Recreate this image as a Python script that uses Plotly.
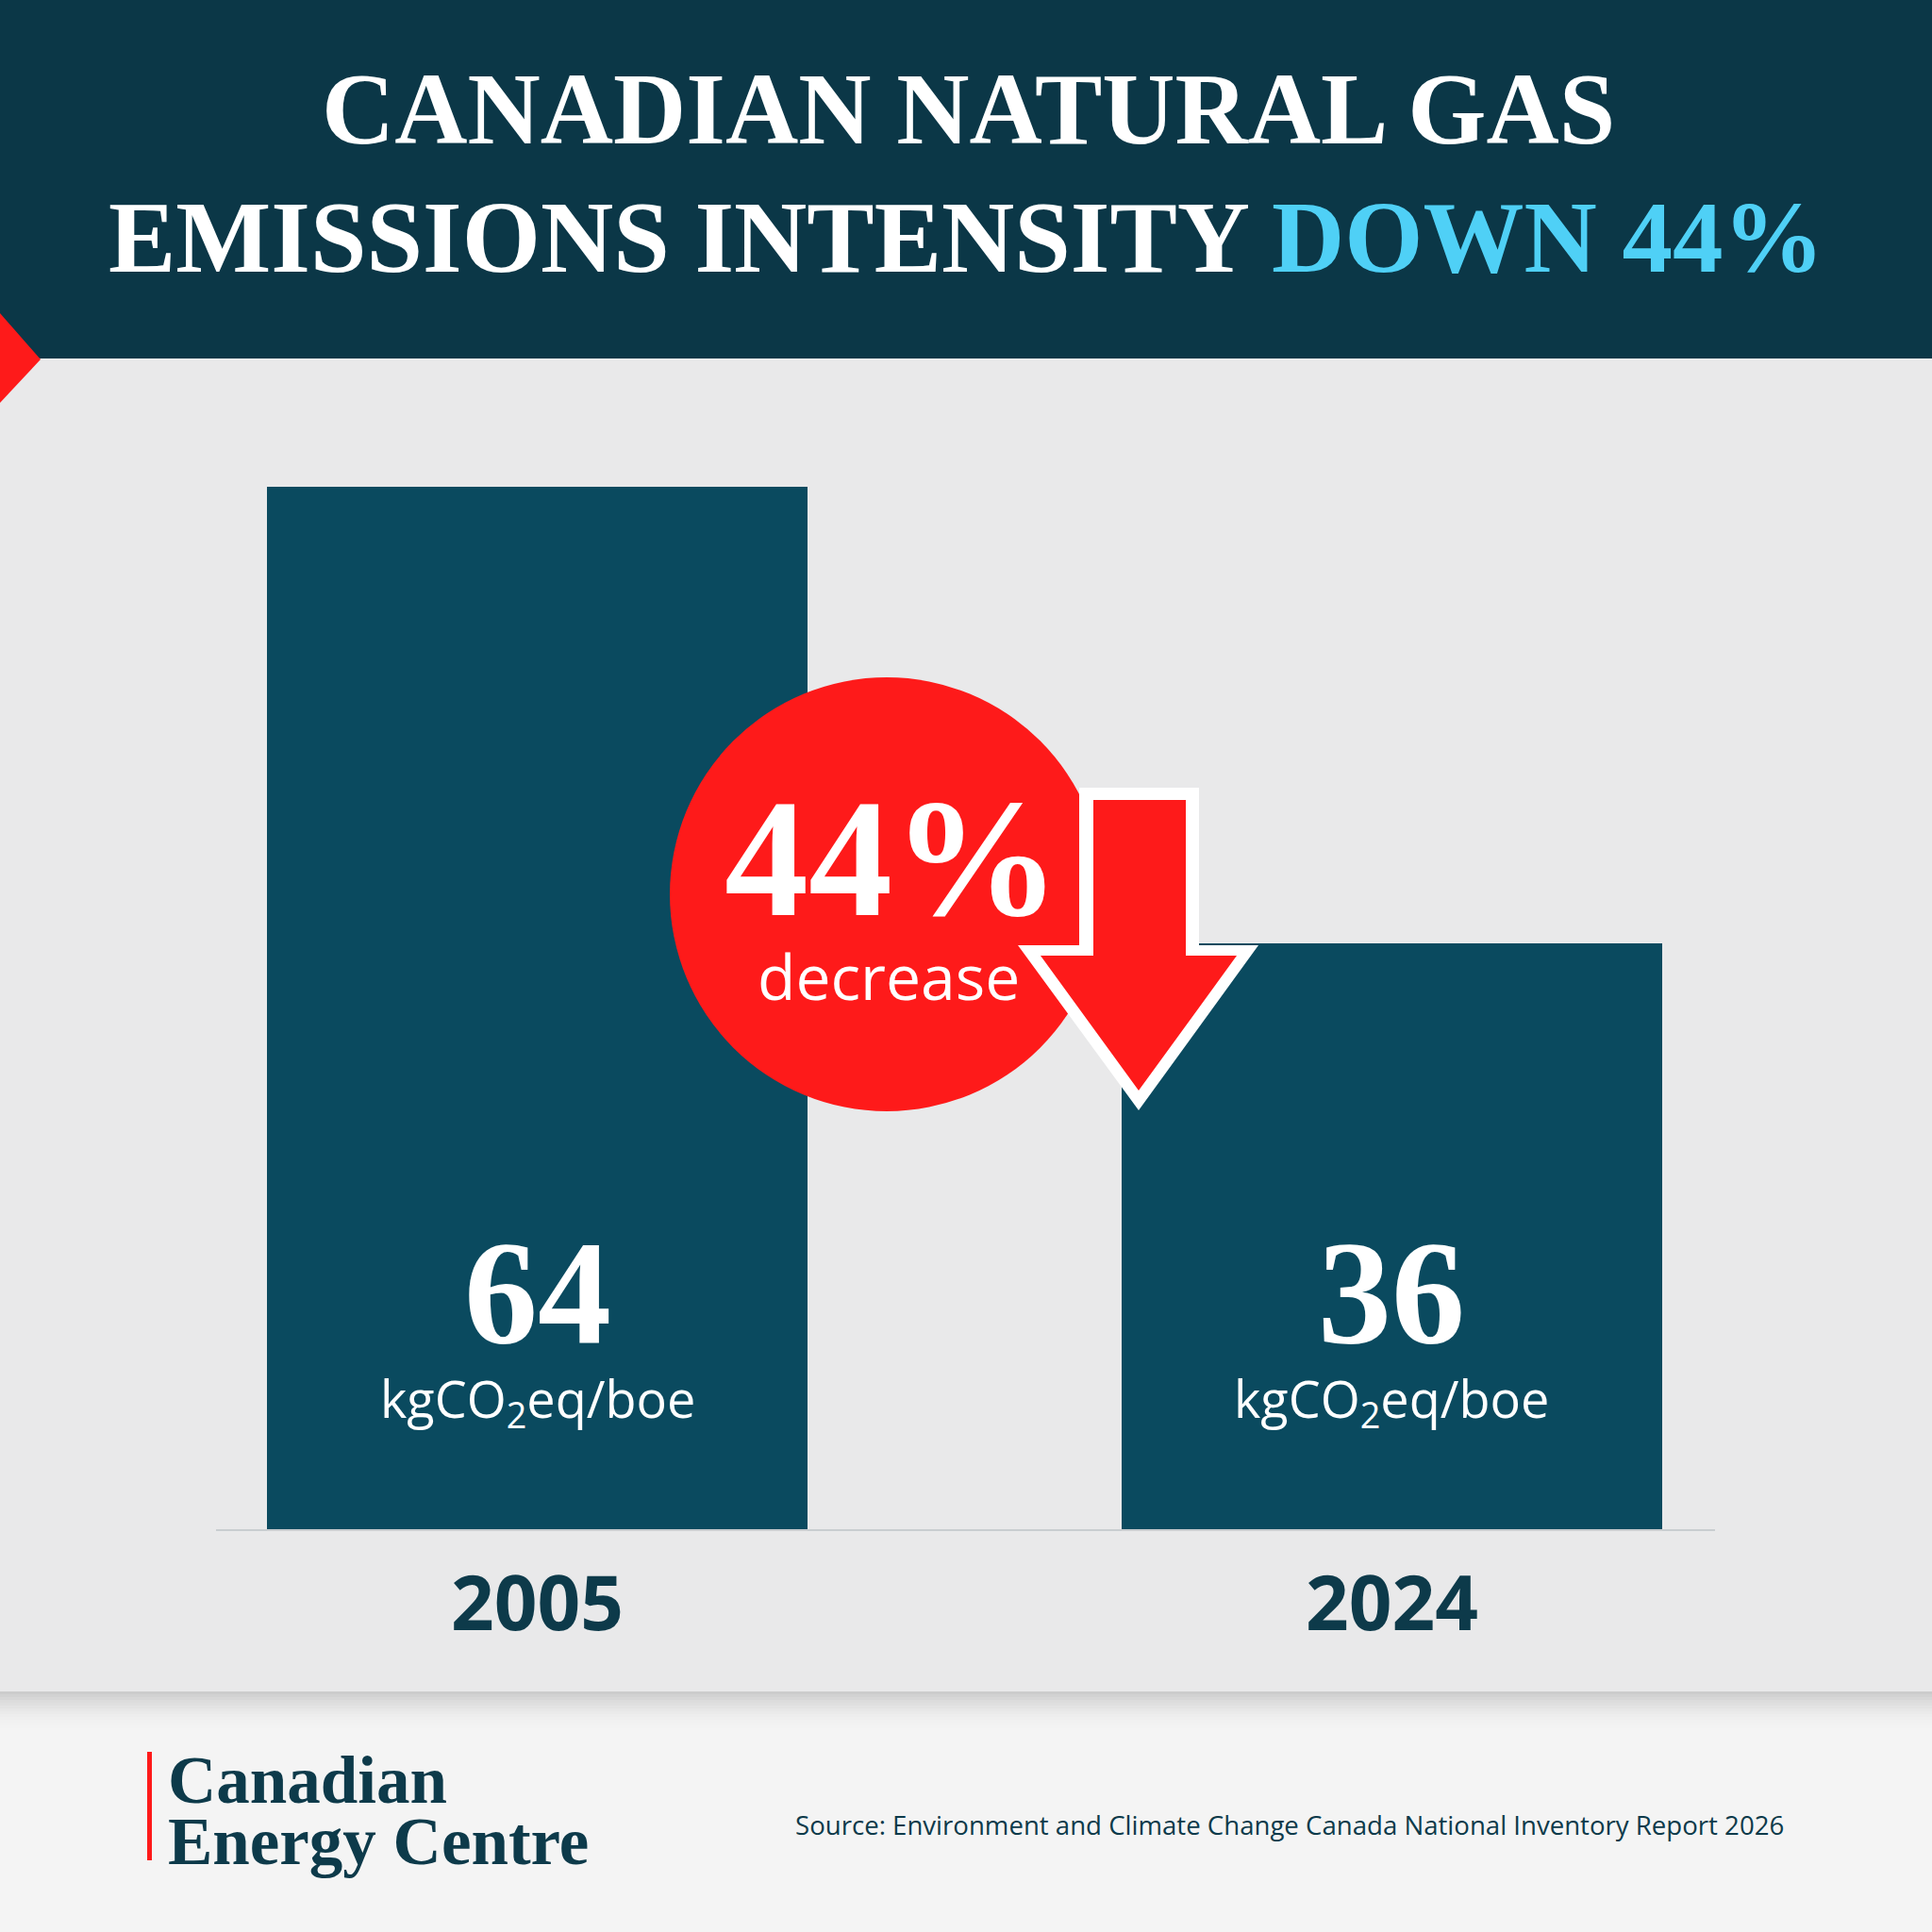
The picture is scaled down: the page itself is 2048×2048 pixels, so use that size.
import plotly.graph_objects as go

# ---- data ----
years = ["2005", "2024"]
intensity = [64, 36]
unit_label = "kgCO<sub>2</sub>eq/boe"
change_pct = 44
title_line1 = "CANADIAN NATURAL GAS"
title_line2_a = "EMISSIONS INTENSITY "
title_line2_b = "DOWN 44%"
source_text = "Source: Environment and Climate Change Canada National Inventory Report 2026"
logo_lines = ["Canadian", "Energy Centre"]

W = H = 2048
HEADER = "#0b3747"
BAR = "#0a4a5f"
PANEL = "#e9e9ea"
FOOT = "#f4f4f4"
RED = "#fe1a1a"
CYAN = "#4fd0f6"
DARK = "#0d3a4a"


def px(x):
    return x / W


def py(y):
    return 1 - y / H


def path(points):
    s = "M " + " L ".join(f"{px(x):.5f},{py(y):.5f}" for x, y in points) + " Z"
    return s


base_px = 1622
top_px = 516
unit_px = (base_px - top_px) / intensity[0]
yrange_top = base_px / unit_px

c0, c1 = 569.5, 1475.0
upx = c1 - c0
xr0 = -c0 / upx
xr1 = xr0 + W / upx

fig = go.Figure()
fig.add_trace(go.Bar(
    x=years, y=intensity, width=573 / upx,
    marker=dict(color=BAR, line=dict(width=0)),
    hoverinfo="skip", showlegend=False,
))

shapes = []
# backgrounds
shapes.append(dict(type="rect", xref="paper", yref="paper", x0=0, x1=1, y0=py(380), y1=1,
                   fillcolor=HEADER, line_width=0, layer="below"))
shapes.append(dict(type="rect", xref="paper", yref="paper", x0=0, x1=1, y0=py(1793), y1=py(380),
                   fillcolor=PANEL, line_width=0, layer="below"))
shapes.append(dict(type="rect", xref="paper", yref="paper", x0=0, x1=1, y0=0, y1=py(1793),
                   fillcolor=FOOT, line_width=0, layer="below"))
# shadow under panel
for i in range(14):
    shapes.append(dict(type="rect", xref="paper", yref="paper", x0=0, x1=1,
                       y0=py(1793 + 3 * (i + 1)), y1=py(1793 + 3 * i),
                       fillcolor="#000000", opacity=0.16 * (1 - i / 14) ** 2, line_width=0, layer="below"))
# red corner triangle
shapes.append(dict(type="path", xref="paper", yref="paper",
                   path=path([(0, 332), (43, 381), (0, 427)]),
                   fillcolor=RED, line_width=0, layer="below"))
# baseline
shapes.append(dict(type="line", xref="paper", yref="paper", x0=px(229), x1=px(1818),
                   y0=py(1622), y1=py(1622), line=dict(color="#c9cdd0", width=2), layer="above"))
# red circle
cx, cy, r = 940, 948, 230
shapes.append(dict(type="circle", xref="paper", yref="paper",
                   x0=px(cx - r), x1=px(cx + r), y0=py(cy + r), y1=py(cy - r),
                   fillcolor=RED, line_width=0, layer="above"))
# arrow (white outline then red fill)
shapes.append(dict(type="path", xref="paper", yref="paper",
                   path=path([(1144, 835), (1271, 835), (1271, 1002), (1334, 1002),
                              (1207, 1177), (1079, 1002), (1144, 1002)]),
                   fillcolor="#ffffff", line_width=0, layer="above"))
shapes.append(dict(type="path", xref="paper", yref="paper",
                   path=path([(1159, 848), (1257, 848), (1257, 1013), (1311, 1013),
                              (1207, 1156), (1103, 1013), (1159, 1013)]),
                   fillcolor=RED, line_width=0, layer="above"))
# logo red bar
shapes.append(dict(type="rect", xref="paper", yref="paper", x0=px(156), x1=px(161),
                   y0=py(1972), y1=py(1857), fillcolor=RED, line_width=0, layer="above"))

ann = []
SERIF = "Liberation Serif"
SANS = "Open Sans"
ann.append(dict(text=title_line1, x=px(1026), y=py(116), xref="paper", yref="paper",
                showarrow=False, xanchor="center", yanchor="middle",
                font=dict(family=SERIF, size=107, color="#ffffff", weight="bold")))
ann.append(dict(text=title_line2_a + f"<span style='color:{CYAN}'>{title_line2_b}</span>",
                x=px(1024), y=py(252), xref="paper", yref="paper",
                showarrow=False, xanchor="center", yanchor="middle",
                font=dict(family=SERIF, size=107, color="#ffffff", weight="bold")))
# circle text
ann.append(dict(text=f"{change_pct}%", x=px(946), y=py(910), xref="paper", yref="paper",
                showarrow=False, xanchor="center", yanchor="middle",
                font=dict(family=SERIF, size=178, color="#ffffff", weight="bold")))
ann.append(dict(text="decrease", x=px(942), y=py(1034), xref="paper", yref="paper",
                showarrow=False, xanchor="center", yanchor="middle",
                font=dict(family=SANS, size=66, color="#ffffff")))
# bar labels and years (category index positions)
for i, (yr, v) in enumerate(zip(years, intensity)):
    ann.append(dict(text=f"{v}", x=i, xref="x", y=py(1370), yref="paper",
                    showarrow=False, xanchor="center", yanchor="middle",
                    font=dict(family=SERIF, size=156, color="#ffffff", weight="bold")))
    ann.append(dict(text=unit_label, x=i, xref="x", y=py(1485), yref="paper",
                    showarrow=False, xanchor="center", yanchor="middle",
                    font=dict(family=SANS, size=54, color="#ffffff")))
    ann.append(dict(text=yr, x=i, xref="x", y=py(1696), yref="paper",
                    showarrow=False, xanchor="center", yanchor="middle",
                    font=dict(family=SANS, size=80, color=DARK, weight="bold")))
# logo
ann.append(dict(text=logo_lines[0], x=px(176), y=py(1887), xref="paper", yref="paper",
                showarrow=False, xanchor="left", yanchor="middle",
                font=dict(family=SERIF, size=71, color=DARK, weight="bold")))
ann.append(dict(text=logo_lines[1], x=px(176), y=py(1952), xref="paper", yref="paper",
                showarrow=False, xanchor="left", yanchor="middle",
                font=dict(family=SERIF, size=71, color=DARK, weight="bold")))
ann.append(dict(text=source_text, x=px(1893), y=py(1934), xref="paper", yref="paper",
                showarrow=False, xanchor="right", yanchor="middle",
                font=dict(family=SANS, size=27.6, color=DARK)))

fig.update_layout(
    width=W, height=H, margin=dict(l=0, r=0, t=0, b=0),
    paper_bgcolor=PANEL, plot_bgcolor="rgba(0,0,0,0)",
    shapes=shapes, annotations=ann, bargap=0,
    xaxis=dict(type="category", range=[xr0, xr1], domain=[0, 1], visible=False, fixedrange=True),
    yaxis=dict(range=[0, yrange_top], domain=[1 - base_px / H, 1], visible=False, fixedrange=True),
    showlegend=False,
)
fig.write_html("out.html", config={"displayModeBar": False},
               post_script="document.body.style.margin='0';document.body.style.padding='0';")
